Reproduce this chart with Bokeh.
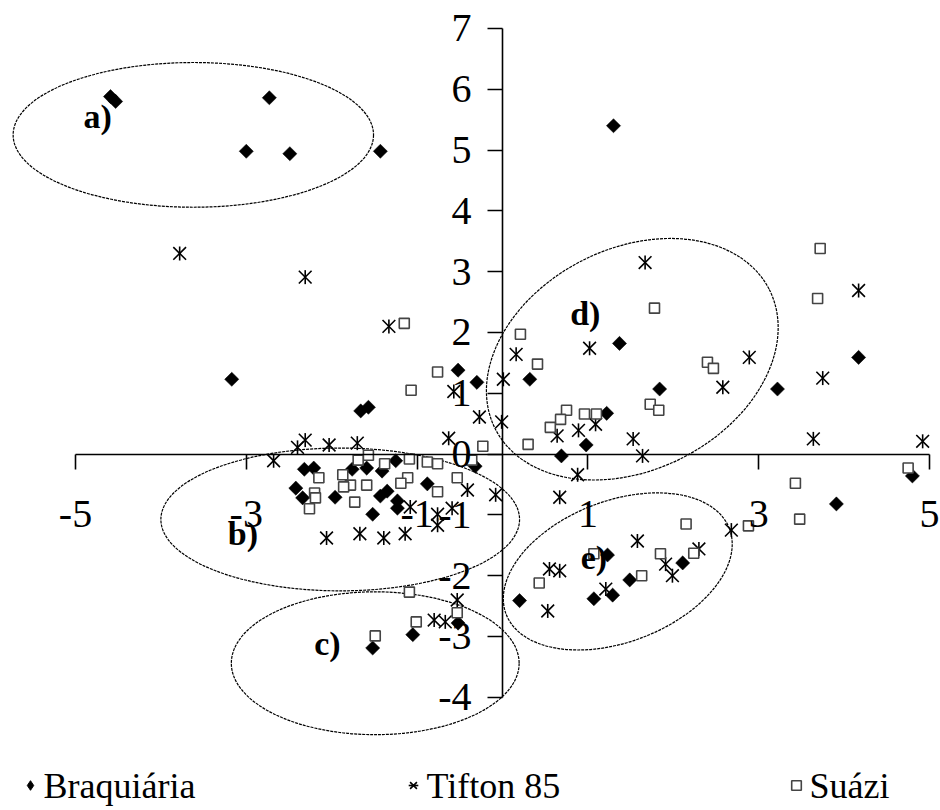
import math
from bokeh.plotting import figure
from bokeh.models import (Range1d, FixedTicker, LinearAxis, Legend, LegendItem)
from bokeh.core.properties import value
from bokeh.embed import file_html
from bokeh.resources import INLINE

# ---------------- data ----------------
braq_x = [-4.59, -4.53, -2.73, -3.00, -2.49, -1.43, -3.17, -0.52, 1.30, 1.37,
          4.17, 0.32, -0.30, 1.84, 3.22, -1.66, -1.57, 1.22, 0.98, 0.69,
          4.80, 3.91, 0.20, 1.07, 1.49, 2.11, 1.23, 1.29, -1.52, -1.05,
          -0.52, -2.32, -2.21, -1.76, -1.59, -1.25, -2.42, -2.34, -1.96, -1.43,
          -1.35, -1.52, -1.23, -1.23, -1.41, -0.88, -0.32]
braq_y = [5.88, 5.80, 5.86, 4.98, 4.94, 4.98, 1.23, 1.38, 5.40, 1.82,
          1.59, 1.23, 1.18, 1.07, 1.07, 0.71, 0.77, 0.67, 0.15, -0.03,
          -0.36, -0.82, -2.41, -2.38, -2.07, -1.79, -1.66, -2.32, -3.19, -2.97,
          -2.78, -0.25, -0.23, -0.25, -0.23, -0.11, -0.56, -0.72, -0.71, -0.69,
          -0.61, -0.99, -0.77, -0.89, -0.28, -0.49, -0.20]

tif_x = [-3.78, -2.31, -1.33, -0.57, 1.67, 4.17, 0.16, 1.02, 2.89, 3.75,
         0.01, 2.58, -0.01, 0.64, 0.89, 1.09, 1.53, 1.64, -0.27, 3.64,
         4.92, 0.88, -0.08, 0.67, 1.58, 0.67, 0.55, 0.53, 1.21, 1.91,
         2.30, 1.99, 2.68, -0.63, -0.41, -1.08, -0.76, -0.59, -1.14, -0.76,
         -1.67, -1.39, -2.06, -2.68, -2.40, -2.31, -2.03, -1.70, -0.53, -0.80,
         -0.67]
tif_y = [3.30, 2.91, 2.10, 1.03, 3.15, 2.69, 1.64, 1.74, 1.59, 1.25,
         1.23, 1.10, 0.53, 0.30, 0.39, 0.49, 0.25, -0.03, 0.61, 0.25,
         0.21, -0.34, -0.67, -0.71, -1.43, -1.92, -1.89, -2.58, -2.22, -1.81,
         -1.56, -2.00, -1.25, 0.26, -0.59, -0.87, -0.99, -0.89, -1.31, -1.17,
         -1.31, -1.38, -1.38, -0.11, 0.11, 0.23, 0.15, 0.18, -2.40, -2.73,
         -2.76]

sua_x = [-1.15, -0.76, -1.07, 3.72, 3.69, 1.78, 0.21, 0.41, 2.40, 2.47,
         1.73, 1.83, 0.75, 0.68, 0.56, 0.96, 1.10, 0.30, -0.23, 4.75,
         3.43, 3.48, 2.15, 2.88, 1.85, 2.24, 1.63, 0.43, 1.07, -1.09,
         -0.88, -0.76, -0.36, -0.53, -0.76, -1.11, -1.19, -1.57, -1.69, -1.38,
         -1.87, -2.15, -1.78, -1.86, -1.59, -2.20, -2.19, -1.73, -2.26, -1.09,
         -1.01, -0.53, -1.49]
sua_y = [2.15, 1.35, 1.05, 3.38, 2.56, 2.40, 1.97, 1.48, 1.51, 1.41,
         0.82, 0.72, 0.72, 0.57, 0.44, 0.66, 0.66, 0.16, 0.13, -0.23,
         -0.48, -1.07, -1.15, -1.18, -1.64, -1.63, -2.00, -2.12, -1.64, -0.08,
         -0.13, -0.16, -0.10, -0.39, -0.62, -0.39, -0.48, -0.02, -0.10, -0.16,
         -0.34, -0.39, -0.51, -0.54, -0.51, -0.64, -0.72, -0.79, -0.90, -2.27,
         -2.76, -2.61, -2.99]

series_names = ["Braquiária", "Tifton 85", "Suázi"]

# group ellipses (centre, size, tilt in degrees)
grp_labels = ["a)", "b)", "c)", "d)", "e)"]
grp_lx = [-4.74, -3.04, -2.05, 0.97, 1.07]
grp_ly = [5.55, -1.30, -3.12, 2.32, -1.70]
ell_x = [-3.62, -1.90, -1.49, 1.52, 1.35]
ell_y = [5.25, -1.075, -3.44, 1.56, -1.93]
ell_w = [4.22, 4.20, 3.37, 3.60, 2.80]
ell_h = [2.38, 2.35, 2.35, 3.64, 2.32]
ell_deg = [0, 0, 0, 27, 21]

x_ticks = [-5, -3, -1, 1, 3, 5]
y_ticks = [-4, -3, -2, -1, 0, 1, 2, 3, 4, 5, 6, 7]

# ---------------- figure ----------------
FONT = "Liberation Serif"
W, H = 940, 810
XR = (-5.878, 5.129)
YR = (-5.862, 7.46)
p = figure(width=W, height=H, output_backend="svg", toolbar_location=None,
           x_range=Range1d(*XR), y_range=Range1d(*YR),
           x_axis_type=None, y_axis_type=None, min_border=0)
p.outline_line_color = None
p.xgrid.visible = False
p.ygrid.visible = False

xa = LinearAxis(fixed_location=0, ticker=FixedTicker(ticks=x_ticks), bounds=(-5, 5),
                major_label_overrides={t: str(t) for t in x_ticks})
ya = LinearAxis(fixed_location=0, ticker=FixedTicker(ticks=y_ticks), bounds=(-4, 7),
                major_label_overrides={t: str(t) for t in y_ticks})
for ax in (xa, ya):
    ax.axis_line_color = "black"
    ax.axis_line_width = 1.6
    ax.major_tick_line_color = "black"
    ax.major_tick_line_width = 1.6
    ax.major_tick_out = 15
    ax.major_tick_in = 0
    ax.minor_tick_line_color = None
    ax.major_label_text_font = FONT
    ax.major_label_text_font_size = "40px"
    ax.major_label_text_color = "black"
xa.major_label_standoff = 32
ya.major_label_standoff = 16
p.add_layout(xa, "below")
p.add_layout(ya, "left")

# ellipses
p.ellipse(x=ell_x, y=ell_y, width=ell_w, height=ell_h,
          angle=[math.radians(a) for a in ell_deg],
          fill_color=None, line_color="black", line_width=1.2, line_dash="3 1")

# series
r1 = p.scatter(braq_x, braq_y, marker="square", angle=math.pi / 4, size=10,
               fill_color="black", line_color="black", line_width=0.5)
r2a = p.scatter(tif_x, tif_y, marker="x", size=18, line_color="black", line_width=1.6)
r2b = p.scatter(tif_x, tif_y, marker="dash", angle=math.pi / 2, size=14,
                line_color="black", line_width=1.6)
r3 = p.scatter(sua_x, sua_y, marker="square", size=10,
               fill_color="white", line_color="#444444", line_width=1.6)

# legend swatch for the first series (hidden renderer, diamond shape)
l1 = p.scatter(braq_x, braq_y, marker="diamond", size=10,
               fill_color="black", line_color="black", visible=False)

# group labels
p.text(x=grp_lx, y=grp_ly, text=grp_labels, text_font=value(FONT),
       text_font_size="34px", text_font_style="bold", text_align="center",
       text_baseline="middle", text_color="black")

# legend: swatches by Bokeh's Legend, label text drawn as a text glyph next to them
LEG_X, LEG_Y = 18, 11
GW, GH, LW, SP = 24, 28, 355, 4
legend = Legend(items=[LegendItem(label=series_names[0], renderers=[l1]),
                       LegendItem(label=series_names[1], renderers=[r2a, r2b]),
                       LegendItem(label=series_names[2], renderers=[r3])],
                location=(LEG_X, LEG_Y), orientation="horizontal",
                glyph_width=GW, glyph_height=GH, label_standoff=0,
                label_width=LW, spacing=SP, padding=0, margin=0,
                border_line_color=None, background_fill_alpha=0,
                inactive_fill_alpha=0, label_text_font_size="20px",
                label_text_alpha=0, label_height=GH)
p.add_layout(legend, "center")

sx_per_px = (XR[1] - XR[0]) / W
sy_per_px = (YR[1] - YR[0]) / H
leg_px = [LEG_X + i * (GW + LW + SP) + GW / 2 + 13 for i in range(len(series_names))]
p.text(x=[XR[0] + px * sx_per_px for px in leg_px],
       y=[YR[0] + (LEG_Y + GH / 2) * sy_per_px] * len(series_names),
       text=series_names, text_font=value(FONT), text_font_size="36px",
       text_align="left", text_baseline="middle", text_color="black")

open("out.html", "w").write(file_html(p, INLINE))
